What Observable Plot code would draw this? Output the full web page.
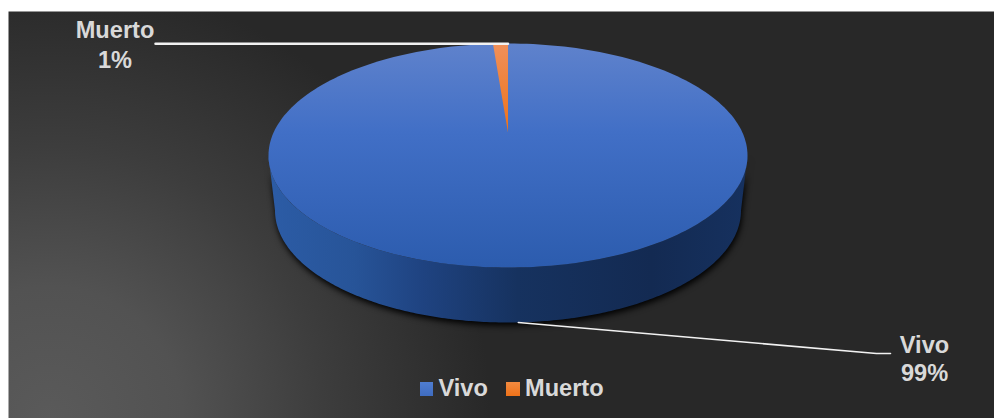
<!DOCTYPE html>
<html>
<head>
<meta charset="utf-8">
<script src="https://cdn.jsdelivr.net/npm/d3@7"></script>
<script src="https://cdn.jsdelivr.net/npm/@observablehq/plot@0.6"></script>
<style>
html,body{margin:0;padding:0;background:#fff;}
svg{display:block;}
g[fill="url(#sideGrad)"]{filter:drop-shadow(1px 3px 3px rgba(0,0,0,1));}
</style>
</head>
<body>
<div id="chart"></div>
<script>
const categories = ["Vivo", "Muerto"];
const values = [99, 1];
const percentLabels = ["99%", "1%"];

const W = 994, H = 418;
const top3d = {cx: 507.5, cy: 155, rx: 239.5, ry: 112, tipY: 132};
const bottom3d = {cx: 507.5, cy: 210, rx: 233, ry: 112};
const font = "Liberation Sans, Arial, sans-serif";
const textColor = "#d9d9d9";

const pie = d3.pie().sort(null).value(d => d.value)(categories.map((name, i) => ({name, value: values[i], pct: percentLabels[i]})));
const onEllipse = (e, t) => ({x: e.cx + e.rx * Math.sin(t), y: e.cy - e.ry * Math.cos(t)});
const arcPts = (e, a0, a1, n = 240) => d3.range(n + 1).map(i => onEllipse(e, a0 + (a1 - a0) * i / n));
const wedge = s => [{x: top3d.cx, y: top3d.tipY}, ...arcPts(top3d, s.startAngle, s.endAngle), {x: top3d.cx, y: top3d.tipY}];

const side = [...arcPts(top3d, Math.PI / 2, 3 * Math.PI / 2), ...arcPts(bottom3d, 3 * Math.PI / 2, Math.PI / 2)];

const mid = s => (s.startAngle + s.endAngle) / 2;
const vivoAnchor = onEllipse(bottom3d, mid(pie[0]));
const leaderVivo = [{x: vivoAnchor.x + 3, y: vivoAnchor.y}, {x: 876, y: 353}, {x: 890, y: 353}];
const leaderMuerto = [{x: 155, y: 43.3}, {x: top3d.cx, y: 43.3}];

const labels = [
  {x: 924, y: 352, text: categories[0]},
  {x: 924, y: 380.5, text: percentLabels[0]},
  {x: 114.5, y: 37, text: categories[1]},
  {x: 114.5, y: 67, text: percentLabels[1]}
];
const legendSwatches = [
  {x1: 420, x2: 433, y1: 382, y2: 396, fill: "url(#legVivo)"},
  {x1: 506, x2: 520, y1: 382, y2: 396, fill: "url(#legMuerto)"}
];
const legendText = [
  {x: 438, y: 395, text: categories[0]},
  {x: 524.5, y: 395, text: categories[1]}
];

const defs = () => d3.create("svg:defs").html(`
  <radialGradient id="bg" gradientUnits="userSpaceOnUse" cx="50" cy="418" r="440">
    <stop offset="0" stop-color="#5a5a5a"/><stop offset="0.3" stop-color="#525252"/>
    <stop offset="0.62" stop-color="#3d3d3d"/><stop offset="1" stop-color="#282828"/>
  </radialGradient>
  <linearGradient id="topGrad" x1="0" y1="0" x2="0" y2="1">
    <stop offset="0" stop-color="#5f82cc"/><stop offset="0.4" stop-color="#416fc6"/>
    <stop offset="1" stop-color="#2c5cae"/>
  </linearGradient>
  <linearGradient id="orangeGrad" gradientUnits="userSpaceOnUse" x1="0" y1="43" x2="0" y2="132">
    <stop offset="0" stop-color="#f0905a"/><stop offset="1" stop-color="#ee7219"/>
  </linearGradient>
  <linearGradient id="sideGrad" gradientUnits="userSpaceOnUse" x1="268" y1="0" x2="747" y2="0">
    <stop offset="0" stop-color="#2c5ca6"/><stop offset="0.18" stop-color="#275498"/>
    <stop offset="0.32" stop-color="#1f4381"/><stop offset="0.52" stop-color="#16325f"/>
    <stop offset="0.8" stop-color="#132a52"/><stop offset="1" stop-color="#16315f"/>
  </linearGradient>
  <linearGradient id="legVivo" x1="0" y1="0" x2="0" y2="1">
    <stop offset="0" stop-color="#4f7dd0"/><stop offset="1" stop-color="#3f6cc0"/>
  </linearGradient>
  <linearGradient id="legMuerto" x1="0" y1="0" x2="0" y2="1">
    <stop offset="0" stop-color="#f28a40"/><stop offset="1" stop-color="#ee7219"/>
  </linearGradient>`).node();

const textOpts = {x: "x", y: "y", text: "text", fontFamily: font, fontWeight: "bold", fontSize: 23.6, fill: textColor, lineAnchor: "bottom"};

const plot = Plot.plot({
  width: W, height: H,
  marginLeft: 8, marginTop: 11, marginRight: 0, marginBottom: 0,
  x: {domain: [8, W], axis: null},
  y: {domain: [11, H], range: [11, H], axis: null},
  marks: [
    defs,
    Plot.frame({fill: "url(#bg)", stroke: "none"}),
    Plot.line(side, {x: "x", y: "y", fill: "url(#sideGrad)", stroke: "none", curve: "linear"}),
    Plot.line(arcPts(top3d, 0, 2 * Math.PI), {x: "x", y: "y", fill: "url(#topGrad)", stroke: "none"}),
    Plot.line(wedge(pie[1]), {x: "x", y: "y", fill: "url(#orangeGrad)", stroke: "none"}),
    Plot.line(leaderMuerto, {x: "x", y: "y", stroke: "#f2f2f2", strokeWidth: 2.5}),
    Plot.line(leaderVivo, {x: "x", y: "y", stroke: "#f2f2f2", strokeWidth: 1.6}),
    Plot.text(labels, {...textOpts, textAnchor: "middle"}),
    Plot.rect(legendSwatches, {x1: "x1", x2: "x2", y1: "y1", y2: "y2", fill: "fill", inset: 0}),
    Plot.text(legendText, {...textOpts, textAnchor: "start"})
  ]
});
document.getElementById("chart").appendChild(plot);
</script>
</body>
</html>
